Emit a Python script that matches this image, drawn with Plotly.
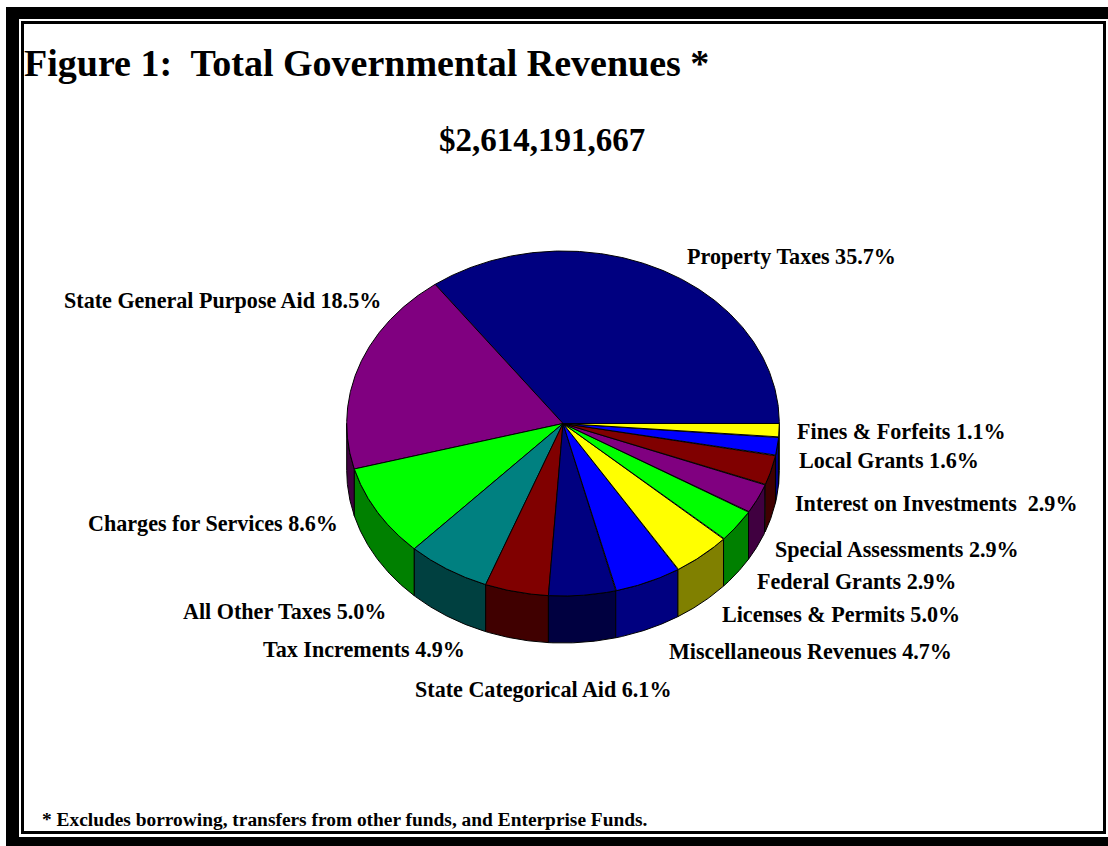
import numpy as np
import plotly.graph_objects as go

W, H = 1108, 846

# Category labels, in drawing order (counter-clockwise from 3 o'clock)
categories = ["Property Taxes", "State General Purpose Aid", "Charges for Services",
              "All Other Taxes", "Tax Increments", "State Categorical Aid",
              "Miscellaneous Revenues", "Licenses & Permits", "Federal Grants",
              "Special Assessments", "Interest on Investments ", "Local Grants",
              "Fines & Forfeits"]
printed_pct = [35.7, 18.5, 8.6, 5.0, 4.9, 6.1, 4.7, 5.0, 2.9, 2.9, 2.9, 1.6, 1.1]
slice_share = [35.1, 19.2, 8.7, 6.25, 4.75, 5.0, 5.0, 4.4, 3.1, 2.8, 2.8, 1.7, 1.3]

top_colors = ["#000080", "#800080", "#00FF00", "#008080", "#800000", "#000080", "#0000FF",
              "#FFFF00", "#00FF00", "#800080", "#800000", "#0000FF", "#FFFF00"]
side_colors = ["#000040", "#400040", "#008000", "#004040", "#400000", "#000040", "#000080",
               "#808000", "#008000", "#400040", "#400000", "#000080", "#808000"]

label_x = [687, 64, 88, 183, 263, 415, 669, 722, 757, 775, 795, 799, 797]
label_y = [256, 300, 523, 611, 649, 689, 651, 614, 581, 549, 503, 461, 431]

title_text = "Figure 1:\u00a0 Total Governmental Revenues *"
subtitle_text = "$2,614,191,667"
footnote_text = "* Excludes borrowing, transfers from other funds, and Enterprise Funds."

# Pie placement on the page
CX, CY, RX, RY, DEPTH = 563.0, 423.5, 216.3, 172.5, 47.0
depth = DEPTH / RY

shares = np.array(slice_share, dtype=float)
edges = np.concatenate([[0.0], np.cumsum(shares)]) / shares.sum() * 2 * np.pi

fig = go.Figure()


def add_poly(xs, ys, color):
    fig.add_trace(go.Scatter(x=xs, y=ys, mode="lines", fill="toself", fillcolor=color,
                             line=dict(color="black", width=1), hoverinfo="skip",
                             showlegend=False))


# Side walls of the lower half, then the top faces
for a0, a1, c in zip(edges[:-1], edges[1:], side_colors):
    lo, hi = max(a0, np.pi), min(a1, 2 * np.pi)
    if hi <= lo:
        continue
    t = np.linspace(lo, hi, 60)
    x, y = np.cos(t), np.sin(t)
    add_poly(np.r_[x, x[::-1], x[0]], np.r_[y, y[::-1] - depth, y[0]], c)

for a0, a1, c in zip(edges[:-1], edges[1:], top_colors):
    t = np.linspace(a0, a1, 200)
    add_poly(np.r_[0, np.cos(t), 0], np.r_[0, np.sin(t), 0], c)


def text(s, px, py, size):
    fig.add_annotation(x=px / W, y=1 - py / H, xref="paper", yref="paper", text=s,
                       showarrow=False, xanchor="left", yanchor="middle", align="left",
                       borderpad=0, borderwidth=0,
                       font=dict(family="Liberation Serif", size=size, color="black"))


for name, pct, lx, ly in zip(categories, printed_pct, label_x, label_y):
    text(f"<b>{name} {pct:.1f}%</b>".replace("  ", "\u00a0 "), lx, ly, 22.1)
text(f"<b>{title_text}</b>", 24, 63, 38)
text(f"<b>{subtitle_text}</b>", 439, 140, 33)
text(f"<b>{footnote_text}</b>", 42, 819, 19.4)


def rect(x0, y0, x1, y1, **kw):
    return dict(type="rect", xref="paper", yref="paper", x0=x0 / W, x1=x1 / W,
                y0=1 - y0 / H, y1=1 - y1 / H, layer="above", **kw)


black = dict(fillcolor="black", line=dict(width=0))
fig.update_layout(
    width=W, height=H, autosize=False,
    margin=dict(l=0, r=0, t=0, b=0),
    paper_bgcolor="white", plot_bgcolor="white",
    xaxis=dict(range=[-CX / RX, (W - CX) / RX], visible=False),
    yaxis=dict(range=[-(H - CY) / RY, CY / RY], visible=False),
    shapes=[
        rect(6, 7, W, 19, **black),
        rect(6, 7, 19, H, **black),
        rect(6, 837, W, H, **black),
        rect(22.5, 22.5, 1104.5, 832.5, fillcolor="rgba(0,0,0,0)", line=dict(color="black", width=3)),
    ],
)

fig.write_html("out.html", config={"displayModeBar": False},
               post_script="document.body.style.margin='0';document.documentElement.style.overflow='hidden';")
